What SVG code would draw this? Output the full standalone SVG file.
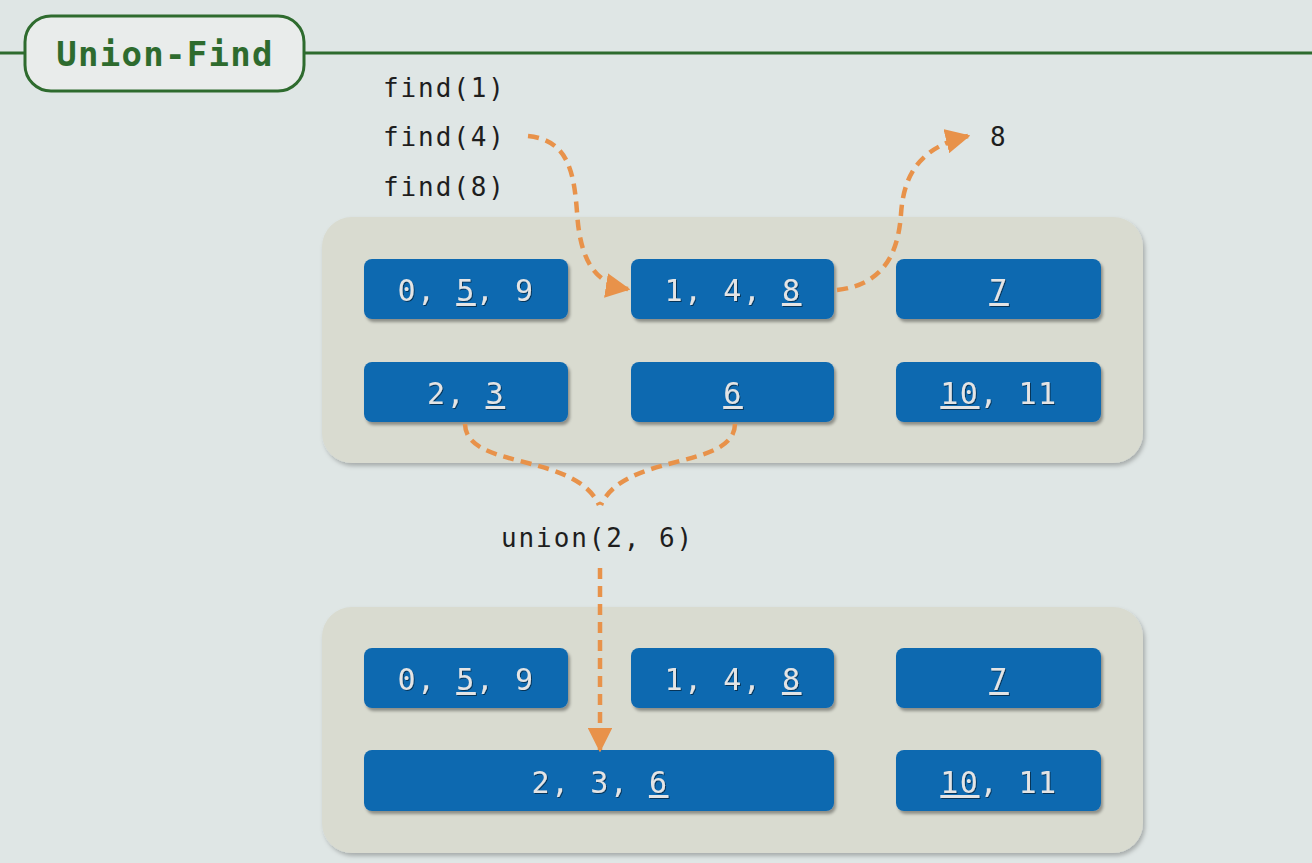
<svg xmlns="http://www.w3.org/2000/svg" width="1312" height="863" viewBox="0 0 1312 863">
<defs>
<style>
.panel{fill:#d9dbd0;filter:url(#psh)}
.box{fill:#1169b0;filter:url(#bsh)}
.bt{font-family:"DejaVu Sans Mono",monospace;font-size:30px;fill:#e4e4e4;text-anchor:middle;letter-spacing:1.5px;filter:url(#tsh)}
.u{text-decoration:underline}
.code{font-family:"DejaVu Sans Mono",monospace;font-size:26px;fill:#1e1e1e;letter-spacing:1.9px}
.arr{fill:none;stroke:#e8924a;stroke-width:4.5;stroke-dasharray:11 7}
</style>
<filter id="psh" x="-5%" y="-5%" width="110%" height="115%">
<feDropShadow dx="2" dy="3" stdDeviation="2" flood-color="#000" flood-opacity="0.25"/>
</filter>
<filter id="bsh" x="-5%" y="-10%" width="115%" height="130%">
<feDropShadow dx="2" dy="3" stdDeviation="1.5" flood-color="#000" flood-opacity="0.35"/>
</filter>
<filter id="tsh" x="-10%" y="-20%" width="120%" height="140%">
<feDropShadow dx="1" dy="1" stdDeviation="0.6" flood-color="#000" flood-opacity="0.5"/>
</filter>
<marker id="ah" viewBox="0 0 10 10" refX="9" refY="5" markerWidth="5.5" markerHeight="5.5" markerUnits="strokeWidth" orient="auto">
<path d="M0,0 L10,5 L0,10 Z" fill="#e8924a"/>
</marker>
</defs>
<rect width="1312" height="863" fill="#dfe6e5"/>
<g id="title">
<line x1="0" y1="53" x2="24" y2="53" stroke="#2e6b2e" stroke-width="3"/>
<line x1="305" y1="53" x2="1312" y2="53" stroke="#2e6b2e" stroke-width="3"/>
<rect x="25" y="16" width="279" height="75" rx="26" fill="#e9eceb" stroke="#2e6b2e" stroke-width="3"/>
<text x="165" y="66" font-family="DejaVu Sans Mono,monospace" font-size="34" font-weight="bold" fill="#2e6b2e" text-anchor="middle" letter-spacing="1.3">Union-Find</text>
</g>
<g id="panel-top"><rect class="panel" x="322" y="217" width="821" height="246" rx="30"/></g>
<g id="panel-bottom"><rect class="panel" x="322" y="607" width="821" height="246" rx="30"/></g>
<g id="labels">
<text class="code" x="383" y="97">find(1)</text>
<text class="code" x="383" y="146">find(4)</text>
<text class="code" x="383" y="196">find(8)</text>
<text class="code" x="990" y="146">8</text>
<text class="code" x="501" y="547">union(2, 6)</text>
</g>
<g id="t-059"><rect class="box" x="364" y="259" width="204" height="60" rx="8"/><text class="bt" x="466" y="301">0, <tspan class="u">5</tspan>, 9</text></g>
<g id="t-148"><rect class="box" x="631" y="259" width="203" height="60" rx="8"/><text class="bt" x="733" y="301">1, 4, <tspan class="u">8</tspan></text></g>
<g id="t-7"><rect class="box" x="896" y="259" width="205" height="60" rx="8"/><text class="bt" x="999" y="301"><tspan class="u">7</tspan></text></g>
<g id="t-23"><rect class="box" x="364" y="362" width="204" height="60" rx="8"/><text class="bt" x="466" y="404">2, <tspan class="u">3</tspan></text></g>
<g id="t-6"><rect class="box" x="631" y="362" width="203" height="60" rx="8"/><text class="bt" x="733" y="404"><tspan class="u">6</tspan></text></g>
<g id="t-1011"><rect class="box" x="896" y="362" width="205" height="60" rx="8"/><text class="bt" x="999" y="404"><tspan class="u">10</tspan>, 11</text></g>
<g id="b-059"><rect class="box" x="364" y="648" width="204" height="60" rx="8"/><text class="bt" x="466" y="690">0, <tspan class="u">5</tspan>, 9</text></g>
<g id="b-148"><rect class="box" x="631" y="648" width="203" height="60" rx="8"/><text class="bt" x="733" y="690">1, 4, <tspan class="u">8</tspan></text></g>
<g id="b-7"><rect class="box" x="896" y="648" width="205" height="60" rx="8"/><text class="bt" x="999" y="690"><tspan class="u">7</tspan></text></g>
<g id="b-236"><rect class="box" x="364" y="750" width="470" height="61" rx="8"/><text class="bt" x="600" y="793">2, 3, <tspan class="u">6</tspan></text></g>
<g id="b-1011"><rect class="box" x="896" y="750" width="205" height="61" rx="8"/><text class="bt" x="999" y="793"><tspan class="u">10</tspan>, 11</text></g>
<g id="connectors">
<path class="arr" d="M528,136 C568,140 574,172 577,212 C580,262 596,284 628,289" marker-end="url(#ah)"/>
<path class="arr" d="M837,290 C880,285 898,258 901,214 C904,168 926,146 968,136" marker-end="url(#ah)"/>
<path class="arr" d="M465,424 C466,470 575,452 599,505"/>
<path class="arr" d="M735,424 C734,470 625,452 601,505"/>
<path class="arr" d="M600,568 L600,750" marker-end="url(#ah)"/>
</g>
</svg>
